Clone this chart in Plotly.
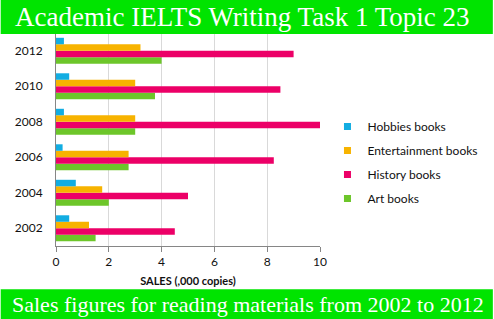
import plotly.graph_objects as go

years = ["2002", "2004", "2006", "2008", "2010", "2012"]
hobbies = [0.5, 0.75, 0.25, 0.3, 0.5, 0.3]
entertainment = [1.25, 1.75, 2.75, 3.0, 3.0, 3.2]
history = [4.5, 5.0, 8.25, 10.0, 8.5, 9.0]
art = [1.5, 2.0, 2.75, 3.0, 3.75, 4.0]
series_names = ["Hobbies books", "Entertainment books", "History books", "Art books"]
series_values = [hobbies, entertainment, history, art]
colors = ["#12ADE2", "#F7B300", "#EC0067", "#6DC62A"]
x_ticks = [0, 2, 4, 6, 8, 10]
title = "Academic IELTS Writing Task 1 Topic 23"
subtitle = "Sales figures for reading materials from 2002 to 2012"
x_title = "SALES (,000 copies)"

W, H = 494, 319
ML, MR, MT, MB = 55.5, 173.5, 33, 73.2
pw = W - ML - MR
ph = H - MT - MB

def px_x(p):
    return (p - ML) / pw

def px_y(p):
    return (H - MB - p) / ph

fig = go.Figure()
# bars: add in reverse so Hobbies sits at top of each group
for name, vals, col in reversed(list(zip(series_names, series_values, colors))):
    fig.add_trace(go.Bar(y=years, x=vals, orientation="h", name=name,
                         marker=dict(color=col, line=dict(width=0)),
                         showlegend=False))
# legend proxies with small square markers
for i, (name, col) in enumerate(zip(series_names, colors)):
    fig.add_trace(go.Scatter(x=[None], y=[None], mode="markers", name=name,
                             legendgroup=str(i),
                             marker=dict(symbol="square", size=7, color=col)))

green = "#00E400"
fig.add_shape(type="rect", xref="paper", yref="paper", x0=px_x(0), x1=px_x(W),
              y0=px_y(34), y1=px_y(0), fillcolor=green, line=dict(width=0), layer="above")
fig.add_shape(type="rect", xref="paper", yref="paper", x0=px_x(0), x1=px_x(W),
              y0=px_y(H), y1=px_y(289), fillcolor=green, line=dict(width=0), layer="above")
fig.add_annotation(text=title, xref="paper", yref="paper", x=px_x(243), y=px_y(17),
                   showarrow=False, xanchor="center", yanchor="middle",
                   font=dict(family="Liberation Serif", size=27, color="white"))
fig.add_annotation(text=subtitle, xref="paper", yref="paper", x=px_x(248), y=px_y(304),
                   showarrow=False, xanchor="center", yanchor="middle",
                   font=dict(family="Liberation Serif", size=22, color="white"))

fig.update_layout(
    width=W, height=H,
    margin=dict(l=ML, r=MR, t=MT, b=MB, pad=0, autoexpand=False),
    paper_bgcolor="white", plot_bgcolor="white",
    barmode="group", bargap=0.27, bargroupgap=0,
    font=dict(family="Lato", size=12, color="#111111"),
    legend=dict(x=px_x(328), y=px_y(112), xanchor="left", yanchor="top",
                traceorder="grouped", tracegroupgap=5,
                font=dict(family="Lato", size=12, color="#111111"),
                itemwidth=30, bgcolor="rgba(0,0,0,0)"),
    xaxis=dict(range=[0, 10], tickvals=x_ticks, showgrid=True, gridcolor="#D9D9D9",
               gridwidth=1, zeroline=False, showline=True, linecolor="#868686",
               ticks="outside", ticklen=5, tickcolor="#868686", automargin=False,
               title=dict(text="<b>" + x_title + "</b>", font=dict(family="Lato", size=11),
                          standoff=8),
               tickfont=dict(family="Lato", size=12)),
    yaxis=dict(type="category", categoryorder="array", categoryarray=years,
               showgrid=False, zeroline=False, showline=True, linecolor="#868686",
               ticks="outside", ticklen=10, tickcolor="rgba(0,0,0,0)", automargin=False,
               tickfont=dict(family="Lato", size=12)),
)
fig.write_html("out.html")
